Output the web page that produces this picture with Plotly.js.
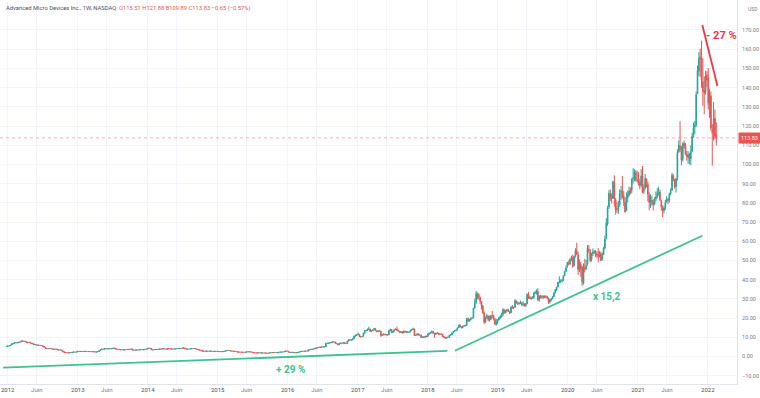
<!DOCTYPE html>
<html>
<head>
<meta charset="utf-8">
<script src="https://cdn.plot.ly/plotly-3.0.1.min.js"></script>
<style>html,body{margin:0;padding:0;background:#fff;}#chart{width:760px;height:398px;}</style>
</head>
<body>
<div id="chart"></div>
<script>
// ---- DATA: AMD weekly candles ----
const firstWeek = '2011-12-26';   // Monday of the first weekly candle
const open = [
5.20,
// 2012
5.42,5.50,5.70,6.00,6.72,6.95,7.17,7.10,7.20,7.45,7.63,8.06,7.90,8.00,7.80,7.40,7.20,7.35,7.02,6.66,6.25,6.35,5.95,5.85,5.93,5.76,5.70,5.34,4.90,4.15,4.08,4.12,4.20,4.10,3.86,3.75,3.90,3.80,3.52,3.38,3.40,3.05,2.50,2.13,2.10,2.01,1.90,2.00,2.10,2.22,2.36,2.31,
// 2013
2.40,2.65,2.72,2.63,2.58,2.71,2.63,2.70,2.60,2.62,2.57,2.55,2.50,2.54,2.31,2.37,2.60,3.10,3.50,3.88,3.82,4.00,4.08,3.97,4.10,3.98,4.10,4.20,4.40,3.90,3.80,3.76,3.66,3.50,3.56,3.42,3.52,3.61,3.64,3.72,3.83,3.92,3.40,3.36,3.32,3.41,3.48,3.53,3.60,3.50,3.60,3.71,
// 2014
3.88,4.18,4.36,4.20,3.48,3.45,3.61,3.70,3.73,3.72,3.92,3.81,4.07,4.00,3.91,3.79,4.18,4.04,4.01,3.93,3.89,3.97,4.01,4.10,4.22,4.29,4.20,4.37,4.50,3.94,3.86,3.88,3.91,4.01,4.11,4.21,4.17,3.97,3.66,3.47,3.37,3.20,2.77,2.73,2.84,2.79,2.74,2.81,2.83,2.69,2.62,2.77,
// 2015
2.71,2.66,2.61,2.51,2.59,2.56,2.71,2.93,3.10,3.18,3.11,2.89,2.81,2.71,2.68,2.58,2.33,2.32,2.28,2.24,2.21,2.20,2.28,2.39,2.48,2.41,2.38,2.18,2.01,1.91,1.84,1.92,1.89,1.93,1.79,1.86,1.82,1.80,1.78,1.73,1.89,2.07,2.04,2.10,2.11,2.06,2.02,2.29,2.33,2.31,2.42,2.66,
// 2016
2.89,2.80,2.32,2.15,2.17,2.21,2.08,1.90,2.10,2.15,2.43,2.61,2.70,2.79,2.76,2.87,2.84,3.57,3.56,3.81,3.80,3.97,4.44,4.38,4.73,4.88,4.80,5.09,5.02,5.06,6.90,6.87,6.95,7.27,7.43,7.61,7.55,6.89,6.66,6.12,6.92,6.97,6.86,7.30,6.85,6.83,8.05,8.70,8.58,8.62,9.32,10.60,11.02,
// 2017
11.42,11.60,10.40,10.30,10.60,12.15,13.45,13.60,14.10,14.35,13.10,13.50,13.85,14.50,13.45,12.90,13.35,13.20,11.00,11.25,11.65,11.40,11.25,11.30,13.40,14.10,12.50,13.25,14.00,14.30,13.60,13.15,12.50,12.90,12.30,13.25,12.60,12.95,12.55,12.80,13.70,14.00,14.25,10.95,11.15,11.75,11.25,11.20,9.95,10.25,10.00,10.50,
// 2018
10.42,11.60,12.10,12.35,13.00,12.05,11.45,12.25,12.15,11.75,11.65,11.55,10.35,10.00,9.55,10.00,10.05,11.00,11.30,12.35,13.05,13.40,13.75,14.95,16.25,15.35,15.00,15.85,16.05,16.25,19.85,18.55,19.05,20.00,20.15,25.30,28.20,32.80,32.30,30.80,28.60,26.50,22.60,18.00,20.60,21.10,19.20,19.30,21.40,21.20,19.40,16.70,
// 2019
18.01,19.10,20.20,20.80,21.90,24.40,22.70,23.70,24.40,23.50,22.80,25.60,25.30,25.60,28.90,27.80,27.50,27.90,28.10,27.10,27.20,26.40,27.50,32.30,30.40,30.60,30.40,30.60,33.00,33.20,33.80,29.40,31.40,31.10,30.80,31.40,30.90,31.20,30.30,28.50,29.60,30.20,31.30,33.20,34.80,36.20,38.50,39.10,39.20,39.50,42.10,44.40,
// 2020
46.86,48.50,48.20,50.80,51.40,47.50,52.20,55.10,53.00,45.00,48.00,46.50,38.00,46.00,45.80,48.00,55.80,54.50,50.50,53.50,54.20,54.50,53.50,52.50,52.10,53.50,50.50,53.20,56.50,61.50,69.00,77.80,84.50,83.00,82.50,90.50,81.50,77.00,76.00,78.80,85.50,86.50,83.50,80.50,76.00,82.50,84.00,86.50,86.50,92.50,93.50,95.80,
// 2021
92.00,92.10,90.50,89.20,94.00,86.00,87.80,92.50,89.50,84.00,80.50,81.50,80.20,79.50,82.00,83.20,85.20,85.50,81.00,77.50,76.00,77.50,80.50,81.80,81.50,84.80,86.60,94.00,92.00,88.50,92.80,106.50,109.80,107.00,102.50,111.00,109.50,105.00,103.80,105.00,103.00,107.00,115.00,119.50,120.50,137.00,148.50,156.00,155.50,143.00,138.50,137.50,146.50,
// 2022
145.10,131.00,135.50,118.00,117.50,124.00,115.51
];
const high = [
5.45,
5.60,5.78,6.05,6.82,7.05,7.30,7.28,7.30,7.55,7.75,8.20,8.35,8.10,8.05,7.85,7.52,7.45,7.40,7.10,6.72,6.48,6.40,6.05,6.00,5.98,5.85,5.75,5.40,4.95,4.20,4.20,4.30,4.25,4.15,3.90,3.97,3.95,3.85,3.58,3.50,3.45,3.10,2.55,2.20,2.15,2.05,2.02,2.12,2.25,2.42,2.40,2.42,
2.72,2.80,2.76,2.70,2.75,2.74,2.78,2.72,2.66,2.65,2.62,2.58,2.60,2.56,2.42,2.62,3.15,3.58,4.00,3.95,4.10,4.22,4.12,4.20,4.15,4.15,4.30,4.52,4.45,3.95,3.88,3.82,3.70,3.62,3.62,3.58,3.66,3.70,3.78,3.88,3.98,3.95,3.48,3.42,3.45,3.55,3.58,3.66,3.62,3.64,3.75,3.92,
4.25,4.45,4.40,4.25,3.55,3.68,3.75,3.80,3.80,3.98,3.95,4.15,4.12,4.05,3.95,4.25,4.22,4.10,4.05,3.96,4.03,4.05,4.16,4.26,4.36,4.32,4.42,4.60,4.55,3.98,3.95,3.95,4.05,4.18,4.25,4.25,4.20,4.00,3.70,3.52,3.42,3.25,2.85,2.90,2.90,2.85,2.86,2.90,2.88,2.74,2.82,2.82,
2.75,2.70,2.64,2.62,2.64,2.75,2.97,3.16,3.28,3.22,3.14,2.94,2.85,2.76,2.72,2.62,2.38,2.36,2.32,2.27,2.25,2.30,2.42,2.54,2.52,2.46,2.42,2.22,2.05,1.95,1.96,1.98,1.99,1.96,1.90,1.90,1.86,1.84,1.82,1.92,2.12,2.12,2.14,2.18,2.14,2.10,2.32,2.38,2.37,2.46,2.70,2.92,
2.95,2.85,2.40,2.25,2.28,2.26,2.12,2.12,2.20,2.48,2.66,2.76,2.84,2.86,2.92,2.92,3.72,3.68,3.90,3.88,4.05,4.52,4.50,4.80,4.98,5.05,5.20,5.15,5.24,7.05,7.04,7.05,7.40,7.60,7.78,7.80,7.62,7.10,6.80,7.00,7.15,7.05,7.40,7.45,7.05,8.25,8.90,9.05,8.90,9.55,10.85,11.40,11.60,
12.40,11.65,10.70,10.70,12.45,13.80,14.00,14.60,15.55,14.50,13.90,14.10,14.90,14.60,13.65,13.50,13.80,13.40,11.90,11.95,11.85,11.75,11.55,13.80,14.50,14.20,13.40,14.40,14.60,15.65,13.95,13.30,13.20,13.05,13.45,13.40,13.15,13.10,12.95,13.85,14.40,15.00,14.50,11.35,12.05,11.90,11.50,11.30,10.40,10.45,10.70,10.90,
12.00,12.50,12.80,13.60,13.20,12.30,12.50,12.60,12.30,12.00,12.10,11.80,10.70,10.15,10.10,10.45,11.25,11.70,12.50,13.25,13.80,14.00,15.10,16.50,16.95,15.60,16.00,16.35,16.60,20.00,20.25,19.60,20.35,20.40,25.30,30.10,34.14,33.40,32.90,31.10,28.90,26.70,23.50,20.70,22.30,21.40,21.30,21.50,23.75,21.70,20.00,19.70,
19.50,20.70,21.50,22.80,25.14,24.80,24.20,24.90,24.60,23.60,26.20,26.80,26.10,29.95,29.20,28.60,28.30,29.20,28.40,28.70,27.70,27.90,32.70,33.70,31.60,31.20,31.40,33.50,34.30,34.90,35.55,31.80,32.00,32.00,31.80,31.80,32.00,31.60,30.80,29.90,30.50,31.60,33.50,35.20,36.20,38.70,41.80,40.20,40.50,42.30,44.60,47.30,
49.25,49.96,51.10,52.50,53.00,52.50,56.40,59.27,54.50,50.50,49.30,47.00,48.50,50.80,50.40,58.00,58.10,56.00,54.00,56.30,55.60,55.40,54.80,56.50,55.00,54.60,54.20,57.00,63.00,72.00,78.50,86.60,87.00,85.00,91.50,94.28,82.50,80.30,81.00,87.00,88.70,94.00,86.00,83.00,85.50,86.30,88.50,88.00,92.80,98.00,97.50,97.00,
96.70,96.10,92.60,97.50,99.23,89.70,95.00,92.70,91.00,85.50,84.50,83.80,81.80,83.00,86.00,87.60,88.50,86.90,81.60,78.80,78.30,81.60,83.50,82.60,85.30,87.50,95.60,94.80,92.50,93.00,107.90,112.50,122.49,109.50,111.60,112.40,111.20,107.00,106.90,106.00,110.00,116.50,121.80,122.70,138.00,151.50,158.50,160.20,164.46,155.30,145.80,148.80,148.50,
150.20,139.50,138.00,121.00,132.50,128.60,121.88
];
const low = [
5.15,
5.35,5.45,5.62,5.92,6.60,6.85,7.00,7.00,7.12,7.38,7.55,7.80,7.82,7.75,7.35,7.10,7.12,6.98,6.60,6.15,6.18,5.90,5.80,5.78,5.70,5.65,5.30,4.85,4.05,3.98,4.00,4.05,4.05,3.82,3.70,3.70,3.78,3.50,3.32,3.30,3.00,2.45,2.08,2.05,1.98,1.86,1.87,1.97,2.07,2.18,2.25,2.27,
2.38,2.60,2.58,2.55,2.55,2.60,2.60,2.58,2.55,2.54,2.52,2.47,2.46,2.28,2.27,2.33,2.55,3.05,3.45,3.70,3.78,3.95,3.90,3.92,3.90,3.95,4.05,4.15,3.85,3.72,3.72,3.62,3.45,3.45,3.38,3.38,3.48,3.55,3.60,3.68,3.78,3.35,3.30,3.25,3.30,3.38,3.45,3.50,3.45,3.46,3.56,3.68,
3.85,4.12,4.15,3.45,3.35,3.42,3.58,3.65,3.66,3.70,3.76,3.78,3.96,3.88,3.75,3.75,4.00,3.96,3.88,3.85,3.86,3.94,3.98,4.08,4.18,4.15,4.16,4.34,3.90,3.82,3.82,3.85,3.88,3.98,4.08,4.12,3.95,3.64,3.45,3.30,3.12,2.70,2.68,2.70,2.75,2.70,2.72,2.78,2.66,2.58,2.58,2.66,
2.60,2.55,2.48,2.47,2.50,2.52,2.66,2.88,3.05,3.05,2.86,2.76,2.66,2.64,2.56,2.29,2.26,2.24,2.18,2.17,2.15,2.17,2.25,2.35,2.38,2.36,2.16,1.98,1.86,1.75,1.80,1.84,1.85,1.70,1.74,1.78,1.76,1.74,1.66,1.70,1.85,1.98,1.99,2.05,2.02,1.96,1.98,2.24,2.26,2.27,2.38,2.62,
2.82,2.30,2.05,2.06,2.10,2.02,1.81,1.86,2.02,2.12,2.38,2.55,2.65,2.70,2.72,2.78,2.80,3.40,3.50,3.70,3.72,3.90,4.25,4.30,4.62,4.62,4.72,4.92,4.95,4.96,6.65,6.70,6.85,7.15,7.30,7.45,6.80,6.50,5.90,6.00,6.75,6.65,6.82,6.70,6.40,6.75,7.90,8.40,8.40,8.50,9.25,10.45,10.80,
11.30,10.25,10.05,10.20,10.50,12.00,13.10,13.40,13.90,13.00,13.00,13.35,13.75,13.40,12.75,12.80,13.10,10.25,10.80,11.10,11.30,11.05,11.00,11.10,13.20,12.30,12.40,13.10,13.80,13.50,13.10,12.20,12.35,12.00,12.20,12.50,12.55,12.50,12.40,12.70,13.50,13.80,10.80,10.70,11.05,11.10,10.90,9.70,9.80,9.80,9.90,10.20,
10.35,11.40,11.90,12.20,11.90,9.80,11.30,11.80,11.30,11.30,11.40,10.25,9.70,9.05,9.30,9.70,9.90,10.80,11.20,12.10,12.85,13.30,13.60,14.80,15.10,14.70,14.80,15.50,15.70,16.10,17.90,18.10,18.80,19.70,19.90,24.90,27.50,29.80,29.50,27.30,24.40,22.20,16.90,17.50,19.50,18.40,18.10,19.00,20.00,18.80,16.50,16.03,
16.90,18.80,19.70,20.20,20.80,22.30,22.50,23.30,23.30,22.10,22.60,25.00,24.60,25.50,27.60,26.80,27.00,27.30,26.30,26.10,26.00,26.00,27.20,29.90,29.90,29.40,30.00,30.20,32.70,32.30,29.00,28.40,30.20,30.10,29.90,30.40,30.50,29.90,27.40,27.60,28.80,29.80,31.10,33.00,34.10,36.00,38.10,38.20,38.70,39.30,41.90,44.00,
46.20,47.50,47.80,49.70,46.20,46.80,51.50,53.00,42.50,44.00,41.50,36.75,37.50,43.80,45.00,47.30,54.00,49.00,49.50,52.20,53.30,51.90,51.30,49.00,51.50,49.80,50.00,52.80,55.80,61.00,68.00,76.80,81.00,79.60,82.00,78.00,73.80,74.70,74.20,78.00,81.50,82.20,78.40,74.90,75.70,80.40,83.30,84.50,85.00,90.00,91.20,91.00,
90.60,89.00,87.00,88.20,85.00,84.60,86.90,88.00,80.70,76.10,77.40,78.40,76.00,78.80,80.90,82.50,83.80,80.90,75.90,72.50,74.50,76.30,80.00,79.30,80.20,84.00,86.50,91.30,87.30,85.40,91.50,106.00,106.40,99.50,101.50,108.10,104.80,102.00,100.40,100.10,99.50,106.50,113.80,115.70,119.50,136.50,146.00,145.50,139.90,130.50,126.10,136.40,140.50,
128.60,124.20,117.50,99.35,112.50,113.20,109.89
];
const close = [
5.40,
5.48,5.69,5.97,6.71,6.94,7.18,7.09,7.18,7.44,7.62,8.08,7.92,8.02,7.83,7.41,7.18,7.36,7.05,6.68,6.24,6.38,5.96,5.86,5.92,5.77,5.73,5.36,4.95,4.18,4.07,4.11,4.20,4.12,3.85,3.74,3.92,3.82,3.54,3.37,3.41,3.09,2.52,2.12,2.11,2.02,1.89,1.99,2.09,2.21,2.37,2.30,2.38,
2.66,2.73,2.62,2.59,2.70,2.64,2.71,2.60,2.61,2.58,2.56,2.50,2.55,2.32,2.36,2.58,3.08,3.51,3.89,3.80,4.02,4.10,3.98,4.12,3.97,4.08,4.22,4.42,3.92,3.80,3.78,3.68,3.50,3.58,3.42,3.52,3.60,3.63,3.72,3.82,3.93,3.40,3.38,3.31,3.40,3.49,3.52,3.60,3.51,3.59,3.70,3.87,
4.20,4.35,4.19,3.50,3.44,3.62,3.69,3.72,3.71,3.93,3.80,4.08,4.01,3.92,3.78,4.19,4.03,4.02,3.92,3.88,3.98,4.00,4.11,4.21,4.30,4.19,4.38,4.52,3.95,3.87,3.89,3.90,4.00,4.12,4.20,4.18,3.98,3.68,3.48,3.38,3.22,2.78,2.72,2.85,2.80,2.73,2.82,2.84,2.70,2.61,2.78,2.70,
2.67,2.60,2.52,2.58,2.57,2.70,2.92,3.11,3.19,3.12,2.90,2.80,2.70,2.69,2.60,2.34,2.31,2.29,2.23,2.22,2.19,2.27,2.38,2.49,2.42,2.40,2.20,2.02,1.92,1.83,1.91,1.90,1.94,1.78,1.87,1.83,1.81,1.79,1.72,1.88,2.08,2.03,2.09,2.12,2.07,2.01,2.28,2.34,2.30,2.41,2.65,2.88,
2.87,2.33,2.14,2.18,2.20,2.10,1.89,2.09,2.14,2.42,2.60,2.71,2.78,2.77,2.86,2.83,3.58,3.55,3.82,3.79,3.98,4.43,4.39,4.72,4.89,4.78,5.10,5.03,5.04,6.91,6.86,6.94,7.28,7.42,7.62,7.56,6.90,6.68,6.10,6.91,6.98,6.85,7.32,6.86,6.81,8.02,8.72,8.60,8.60,9.30,10.62,11.00,11.34,
11.55,10.38,10.28,10.50,12.11,13.49,13.58,14.12,14.40,13.08,13.52,13.81,14.55,13.50,12.92,13.30,13.30,10.98,11.20,11.70,11.42,11.30,11.28,13.35,14.20,12.48,13.20,14.02,14.33,13.62,13.20,12.55,12.94,12.25,13.30,12.64,12.92,12.60,12.75,13.67,13.98,14.30,10.98,11.11,11.80,11.20,11.22,9.90,10.20,10.05,10.54,10.28,
11.55,12.14,12.32,13.03,12.10,11.42,12.20,12.20,11.70,11.66,11.58,10.40,10.05,9.53,9.95,10.00,11.04,11.28,12.30,13.08,13.36,13.70,14.90,16.30,15.40,14.99,15.80,16.10,16.20,19.92,18.50,19.10,19.98,20.10,25.17,28.00,32.72,32.43,30.89,28.70,26.42,22.70,17.90,20.50,21.20,19.30,19.10,21.30,21.30,19.50,16.93,17.82,
19.00,20.27,20.77,21.93,24.51,22.67,23.68,24.36,23.53,22.70,25.70,25.21,25.52,29.00,27.90,27.49,27.88,28.22,27.00,27.32,26.44,27.41,32.41,30.32,30.70,30.37,30.50,33.10,33.22,33.93,29.50,31.50,31.00,30.90,31.45,30.95,31.11,30.40,28.44,29.66,30.10,31.27,33.13,34.89,36.10,38.62,39.15,39.15,39.40,42.00,44.30,46.18,
49.10,48.17,50.60,51.50,47.00,52.00,55.00,53.30,45.50,48.60,45.80,39.00,47.50,45.50,47.40,56.30,55.00,50.00,53.30,54.30,54.70,53.80,52.60,52.00,53.70,50.00,53.00,56.40,61.10,69.40,77.43,85.00,82.80,82.00,91.00,82.00,76.30,76.70,78.40,85.00,86.00,83.00,81.00,75.29,82.00,84.30,86.30,86.00,92.30,93.00,95.90,92.00,
91.71,90.00,89.00,94.10,85.64,87.50,92.70,89.60,84.50,80.20,81.60,80.00,79.00,81.80,83.00,85.00,85.70,81.62,77.90,75.90,77.30,80.10,81.70,81.30,84.60,86.60,94.40,92.20,88.40,92.60,106.20,110.10,107.60,102.30,110.80,109.40,105.40,104.10,105.10,102.90,106.80,114.60,119.20,120.20,136.30,148.80,155.00,154.80,144.00,138.10,137.20,146.10,143.90,
132.00,137.00,118.81,116.40,123.60,114.48,113.83
];
const tickYears = ['2012','2013','2014','2015','2016','2017','2018','2019','2020','2021','2022'];
const midYearLabel = 'Juin';
const priceTicks = [-10,0,10,20,30,40,50,60,70,80,90,100,110,120,130,140,150,160,170];
const symbolTitle = 'Advanced Micro Devices Inc., 1W, NASDAQ';
const axisCurrency = 'USD';
const labelDrop = '- 27 %';
const labelFlat = '+ 29 %';
const labelRise = 'x 15,2';

// ---- build weekly dates ----
const dates = [];
{
  const d0 = new Date(firstWeek + 'T00:00:00Z');
  for (let i = 0; i < close.length; i++) {
    const d = new Date(d0.getTime() + i * 7 * 86400000);
    dates.push(d.toISOString().slice(0, 10));
  }
}

// ---- ticks ----
const tickvals = [], ticktext = [];
tickYears.forEach((y, i) => {
  tickvals.push(y + '-01-01');
  ticktext.push('<span style="color:#4a4e59">' + y + '</span>');
  if (i < tickYears.length - 1) { tickvals.push(y + '-06-01'); ticktext.push(midYearLabel); }
});

const n = close.length;
const lastO = open[n-1], lastH = high[n-1], lastL = low[n-1], lastC = close[n-1];
const chg = lastC - close[n-2];
const chgPct = chg / close[n-2] * 100;
const fmt = v => v.toFixed(2);
const signed = v => (v < 0 ? '\u2212' : '+') + Math.abs(v).toFixed(2);
const headerText = symbolTitle + '  <span style="color:#ef5350">O' + fmt(lastO) + ' H' + fmt(lastH) +
  ' B' + fmt(lastL) + ' C' + fmt(lastC) + ' ' + signed(chg) + ' (' + signed(chgPct) + '%)</span>';

const UP = '#26a69a', DOWN = '#ef5350';
const trace = {
  type: 'candlestick',
  x: dates, open: open, high: high, low: low, close: close,
  increasing: {line: {color: UP, width: 1}, fillcolor: UP},
  decreasing: {line: {color: DOWN, width: 1}, fillcolor: DOWN},
  whiskerwidth: 0,
  hoverinfo: 'skip',
  showlegend: false
};

const GREEN = '#3cc48d', RED = '#f23645';
const layout = {
  width: 760, height: 398,
  margin: {l: 0, r: 23, t: 0, b: 14, pad: 0},
  paper_bgcolor: '#ffffff', plot_bgcolor: '#ffffff',
  font: {family: 'Roboto, "Liberation Sans", sans-serif', size: 6, color: '#787b86'},
  hovermode: false,
  xaxis: {
    type: 'date',
    range: ['2011-11-22', '2022-06-02'],
    rangeslider: {visible: false},
    tickmode: 'array', tickvals: tickvals, ticktext: ticktext,
    tickangle: 0,
    showgrid: true, gridcolor: '#f2f4f9', gridwidth: 1,
    showline: true, linecolor: '#e0e3eb', linewidth: 1,
    ticks: '', ticklen: 0,
    tickfont: {size: 6, color: '#787b86'},
    automargin: false, zeroline: false, fixedrange: true
  },
  yaxis: {
    side: 'right',
    range: [-14.3, 185.6],
    tickmode: 'array', tickvals: priceTicks,
    tickformat: '.2f',
    showgrid: true, gridcolor: '#f2f4f9', gridwidth: 1,
    showline: true, linecolor: '#e0e3eb', linewidth: 1,
    ticks: 'outside', ticklen: 3, tickcolor: '#ffffff',
    tickfont: {size: 5.5, color: '#787b86'},
    zeroline: false, automargin: false, fixedrange: true
  },
  shapes: [
    // last price line
    {type: 'line', xref: 'paper', x0: 0, x1: 1, yref: 'y', y0: lastC, y1: lastC,
     line: {color: 'rgba(239,83,80,0.45)', width: 1, dash: 'dot'}},
    // drawn trend lines (annotations of the author)
    {type: 'line', xref: 'x', yref: 'y', x0: '2011-12-08', y0: -5.8, x1: '2018-04-13', y1: 2.9,
     line: {color: GREEN, width: 1.8}},
    {type: 'line', xref: 'x', yref: 'y', x0: '2018-05-22', y0: 3.0, x1: '2021-12-03', y1: 62.9,
     line: {color: GREEN, width: 1.8}},
    {type: 'line', xref: 'x', yref: 'y', x0: '2021-12-03', y0: 172.6, x1: '2022-02-20', y1: 140.8,
     line: {color: RED, width: 1.8}}
  ],
  annotations: [
    {xref: 'paper', yref: 'paper', x: 0, y: 1, xanchor: 'left', yanchor: 'top', xshift: 4, yshift: -3,
     text: headerText, showarrow: false, align: 'left', font: {size: 5.8, color: '#4a4e59'}},
    {xref: 'paper', yref: 'paper', x: 1, y: 1, xanchor: 'left', yanchor: 'top', xshift: 9, yshift: -4,
     text: axisCurrency, showarrow: false, font: {size: 5, color: '#787b86'}},
    {xref: 'paper', yref: 'y', x: 1, y: lastC, xanchor: 'left', yanchor: 'middle', xshift: 1,
     text: fmt(lastC), showarrow: false, bgcolor: DOWN, borderpad: 2,
     font: {size: 5.5, color: '#ffffff'}},
    {xref: 'x', yref: 'y', x: '2022-03-15', y: 166.9, text: '<b>' + labelDrop + '</b>', showarrow: false,
     font: {size: 11, color: RED}},
    {xref: 'x', yref: 'y', x: '2016-01-17', y: -7.0, text: '<b>' + labelFlat + '</b>', showarrow: false,
     font: {size: 10, color: GREEN}},
    {xref: 'x', yref: 'y', x: '2020-07-23', y: 31.0, text: '<b>' + labelRise + '</b>', showarrow: false,
     font: {size: 10, color: GREEN}}
  ]
};

Plotly.newPlot('chart', [trace], layout, {staticPlot: true, displayModeBar: false});
</script>
</body>
</html>
